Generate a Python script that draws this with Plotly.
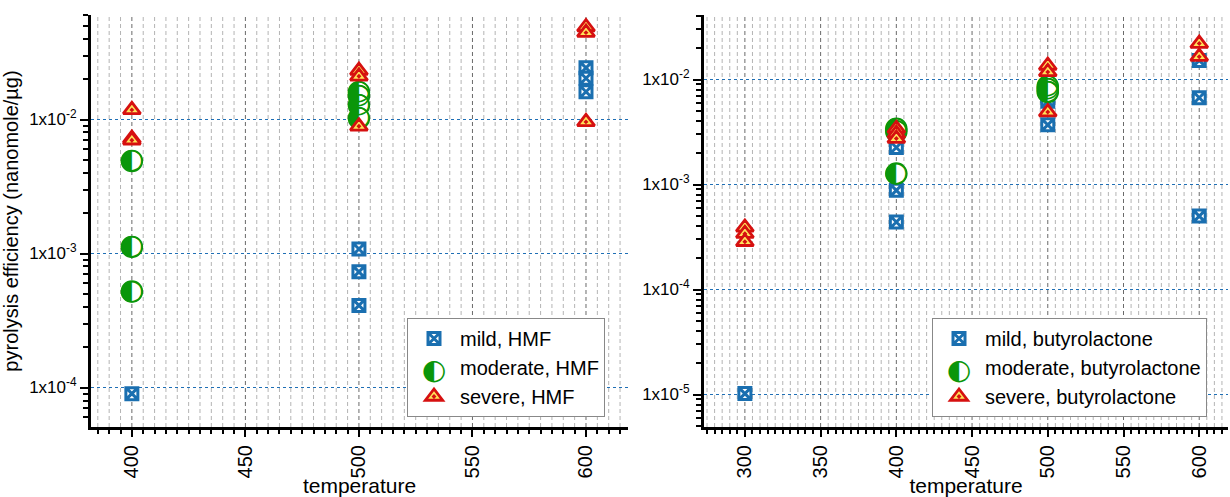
import plotly.graph_objects as go

# ---------------- data ----------------
mild_hmf_T = [400, 500, 500, 500, 600, 600, 600]
mild_hmf_v = [9.0e-5, 1.08e-3, 7.3e-4, 4.1e-4, 0.0243, 0.0203, 0.0161]

moderate_hmf_T = [400, 400, 400, 500, 500, 500, 500]
moderate_hmf_v = [4.9e-3, 1.12e-3, 5.2e-4, 0.0160, 0.0150, 0.0128, 0.0102]

severe_hmf_T = [400, 400, 400, 500, 500, 500, 600, 600, 600]
severe_hmf_v = [0.0118, 7.2e-3, 7.0e-3, 0.0232, 0.0210, 8.9e-3, 0.049, 0.0445, 9.6e-3]

mild_bl_T = [300, 400, 400, 400, 500, 500, 500, 600, 600, 600]
mild_bl_v = [1.02e-5, 2.25e-3, 8.8e-4, 4.4e-4, 7.0e-3, 6.2e-3, 3.7e-3, 0.0152, 6.7e-3, 5.0e-4]

moderate_bl_T = [400, 400, 400, 500, 500, 500]
moderate_bl_v = [3.4e-3, 3.2e-3, 1.27e-3, 8.6e-3, 8.1e-3, 7.6e-3]

severe_bl_T = [300, 300, 300, 400, 400, 400, 500, 500, 500, 600, 600]
severe_bl_v = [3.9e-4, 3.4e-4, 2.85e-4, 3.4e-3, 3.06e-3, 2.74e-3, 0.0136, 0.0118, 4.9e-3, 0.022, 0.0165]

x_ticks_left = [400, 450, 500, 550, 600]
x_ticks_right = [300, 350, 400, 450, 500, 550, 600]
y_ticks_left = [1e-4, 1e-3, 1e-2]
y_ticks_right = [1e-5, 1e-4, 1e-3, 1e-2]
y_exp_left = ["-4", "-3", "-2"]
y_exp_right = ["-5", "-4", "-3", "-2"]

# ---------------- style ----------------
BLUE = "#1a6fb0"
GRID_BLUE = "#1f6fb5"
GRID_MAJOR = "#6a6a6a"
GRID_MINOR = "#b4b4b4"
GREEN = "#0a960a"
RED = "#d61010"
YELLOW = "#ffe35a"
FONT = "Liberation Sans, Arial, sans-serif"
HALF = "◐"


def sci_labels(exps):
    return ["1x10<sup style='font-size:14px'>%s</sup>" % e for e in exps]


fig = go.Figure()


def add_panel(xa, ya, legend, label, mT, mv, oT, ov, sT, sv):
    fig.add_trace(go.Scatter(
        x=mT, y=mv, mode="markers", name="mild, " + label, xaxis=xa, yaxis=ya,
        legend=legend, legendgroup=legend + "m",
        marker=dict(symbol="square-x", size=12, color="white",
                    line=dict(color=BLUE, width=3))))
    fig.add_trace(go.Scatter(
        x=oT, y=ov, mode="markers", showlegend=False, xaxis=xa, yaxis=ya,
        legendgroup=legend + "o",
        marker=dict(symbol="circle", size=21, color="white",
                    line=dict(color=GREEN, width=1.5))))
    fig.add_trace(go.Scatter(
        x=oT, y=ov, mode="text", text=[HALF] * len(oT), showlegend=False,
        xaxis=xa, yaxis=ya, legendgroup=legend + "o", hoverinfo="skip",
        textposition="middle center",
        textfont=dict(color=GREEN, size=28, family="DejaVu Sans")))
    fig.add_trace(go.Scatter(
        x=[None], y=[None], mode="markers", name="moderate, " + label,
        xaxis=xa, yaxis=ya, legend=legend, legendgroup=legend + "o",
        marker=dict(symbol="circle", size=16, color="rgba(0,0,0,0)",
                    line=dict(width=0))))
    fig.add_trace(go.Scatter(
        x=sT, y=sv, mode="markers", name="severe, " + label, xaxis=xa, yaxis=ya,
        legend=legend, legendgroup=legend + "s",
        marker=dict(symbol="triangle-up-dot", size=15, color=YELLOW,
                    line=dict(color=RED, width=2.8))))


add_panel("x", "y", "legend", "HMF", mild_hmf_T, mild_hmf_v,
          moderate_hmf_T, moderate_hmf_v, severe_hmf_T, severe_hmf_v)
add_panel("x2", "y2", "legend2", "butyrolactone", mild_bl_T, mild_bl_v,
          moderate_bl_T, moderate_bl_v, severe_bl_T, severe_bl_v)

minor_y = [k * 10.0 ** e for e in range(-6, 0) for k in range(2, 10)]


def xaxis_cfg(domain, rng, ticks):
    return dict(
        domain=domain, range=rng, tickvals=ticks, tickangle=-90,
        ticks="outside", ticklen=7, tickwidth=2, tickcolor="black",
        showline=True, linewidth=3, linecolor="black", showgrid=False,
        zeroline=False, tickfont=dict(size=20, color="black", family=FONT),
        title=dict(text="temperature", font=dict(size=21, color="black", family=FONT),
                   standoff=2),
        minor=dict(dtick=5, tick0=0, ticks="outside", ticklen=4, tickwidth=1.5,
                   tickcolor="black", showgrid=False),
    )


def yaxis_cfg(domain, rng, tv, tt, anchor):
    return dict(
        type="log", domain=domain, range=rng, anchor=anchor,
        tickmode="array", tickvals=tv, ticktext=tt,
        ticks="outside", ticklen=8, tickwidth=2, tickcolor="black",
        showline=True, linewidth=3, linecolor="black", showgrid=False,
        zeroline=False, tickfont=dict(size=17, color="black", family=FONT),
        minor=dict(tickmode="array", tickvals=minor_y, ticks="outside", ticklen=5,
                   tickwidth=1.5, tickcolor="black", showgrid=False),
    )


# grid lines, placed through the axes' own data coordinates
def add_grid(xref, yref, xr, y_decades):
    xs = [v for v in range(int(xr[0]) // 5 * 5, int(xr[1]) + 1, 5) if xr[0] < v < xr[1]]
    for v in xs:
        major = v % 50 == 0
        fig.add_shape(type="line", xref=xref, yref=yref + " domain", x0=v, x1=v, y0=0, y1=1,
                      layer="below",
                      line=dict(color=GRID_MAJOR if major else GRID_MINOR, width=1,
                                dash="4px,3px"))
    for d in y_decades:
        fig.add_shape(type="line", xref=xref + " domain", yref=yref, x0=0, x1=1, y0=d, y1=d,
                      layer="below", line=dict(color=GRID_BLUE, width=1, dash="3px,3px"))


X_RANGE_L = [382, 618.5]
X_RANGE_R = [273, 619]
add_grid("x", "y", X_RANGE_L, y_ticks_left)
add_grid("x2", "y2", X_RANGE_R, y_ticks_right)

LEG_CY = 1 - 367.5 / 497
legend_common = dict(y=LEG_CY, xanchor="left", yanchor="middle",
                     bordercolor="#888888", borderwidth=1, bgcolor="white",
                     font=dict(size=20, color="black", family=FONT),
                     tracegroupgap=0, itemwidth=42)

ydom = [1 - 427 / 497, 1 - 15 / 497]
fig.update_layout(
    width=1230, height=497,
    margin=dict(l=0, r=0, t=0, b=0),
    paper_bgcolor="white", plot_bgcolor="white",
    font=dict(family=FONT, color="black"),
    xaxis=dict(xaxis_cfg([91 / 1230, 628 / 1230], X_RANGE_L, x_ticks_left), anchor="y"),
    yaxis=dict(yaxis_cfg(ydom, [-4.2947, -1.2201], y_ticks_left, sci_labels(y_exp_left), "x"),
               title=dict(text="pyrolysis efficiency (nanomole/µg)",
                          font=dict(size=20, color="black", family=FONT), standoff=6)),
    xaxis2=dict(xaxis_cfg([704 / 1230, 1228 / 1230], X_RANGE_R, x_ticks_right), anchor="y2"),
    yaxis2=yaxis_cfg(ydom, [-5.3095, -1.3857], y_ticks_right, sci_labels(y_exp_right), "x2"),
    legend=dict(legend_common, x=407 / 1230),
    legend2=dict(legend_common, x=932 / 1230),
    showlegend=True,
)

for lx in (407, 932):
    fig.add_annotation(xref="paper", yref="paper", x=(lx + 27) / 1230, y=1 - 369 / 497,
                       text=HALF, showarrow=False, xanchor="center", yanchor="middle",
                       font=dict(size=28, color=GREEN, family="DejaVu Sans"))

fig.write_html("out.html")
